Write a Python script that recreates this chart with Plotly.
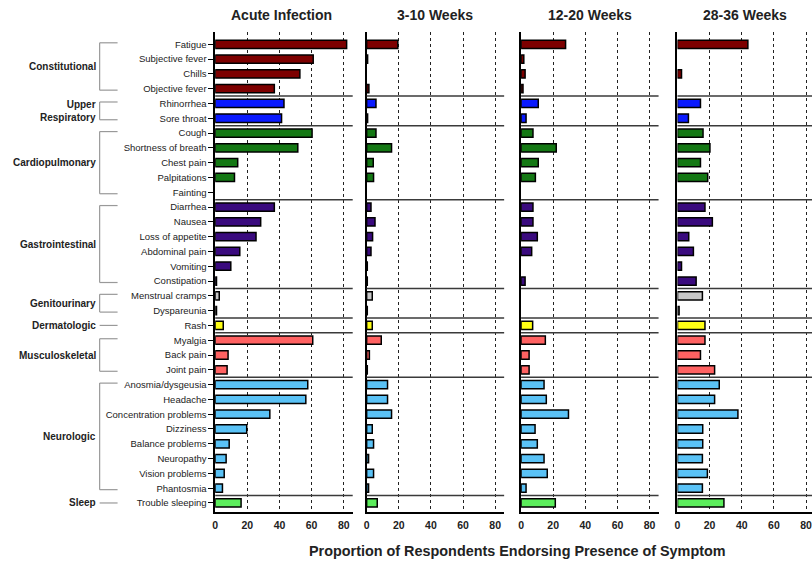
import plotly.graph_objects as go

# ---------------- data ----------------
symptoms = [
    "Fatigue", "Subjective fever", "Chills", "Objective fever",
    "Rhinorrhea", "Sore throat",
    "Cough", "Shortness of breath", "Chest pain", "Palpitations", "Fainting",
    "Diarrhea", "Nausea", "Loss of appetite", "Abdominal pain", "Vomiting", "Constipation",
    "Menstrual cramps", "Dyspareunia",
    "Rash",
    "Myalgia", "Back pain", "Joint pain",
    "Anosmia/dysgeusia", "Headache", "Concentration problems", "Dizziness",
    "Balance problems", "Neuropathy", "Vision problems", "Phantosmia",
    "Trouble sleeping",
]
group_names = ["Constitutional", "Upper<br>Respiratory", "Cardiopulmonary", "Gastrointestinal",
               "Genitourinary", "Dermatologic", "Musculoskeletal", "Neurologic", "Sleep"]
group_sizes = [4, 2, 5, 6, 2, 1, 3, 8, 1]
group_colors = ["#7d0000", "#0a1aff", "#147814", "#3a0a7e", "#c8c8c8",
                "#ffff14", "#ff6262", "#5ac2f6", "#5cee5c"]

periods = ["Acute Infection", "3-10 Weeks", "12-20 Weeks", "28-36 Weeks"]
acute = [81.8, 61, 52.7, 36.8, 42.8, 41.3, 60.3, 51.4, 14, 12, 0,
         36.8, 28.3, 25.4, 15.3, 9.7, 0.8, 2.5, 0.8, 5, 60.7, 8, 7.4,
         57.6, 56.4, 34, 19.6, 8.7, 6.8, 5.6, 4.5, 16.1]
weeks_3_10 = [19.4, 0.6, 0, 1.4, 5.8, 0.6, 5.8, 15.5, 4.1, 4.3, 0,
              2.7, 5.2, 3.7, 2.7, 0.4, 0.4, 3.5, 0.4, 3.5, 9.1, 1.7, 0.4,
              13, 13, 15.5, 3.5, 4.3, 1.2, 4.3, 1.2, 6.6]
weeks_12_20 = [27.7, 1.7, 2.5, 1.2, 10.7, 3.1, 7.4, 21.9, 10.7, 8.9, 0,
               7.4, 7.4, 10.1, 6.6, 0, 2.5, 0, 0, 7.2, 15.1, 5, 5,
               14.3, 15.7, 29.5, 8.7, 10.1, 14.3, 16.3, 3.1, 21.3]
weeks_28_36 = [43.8, 0, 2.5, 0, 14.3, 6.8, 15.9, 20.2, 14.3, 18.8, 0,
               17.1, 21.7, 7, 9.9, 2.5, 11.6, 15.5, 1, 17.1, 17.1, 14.3, 23.1,
               26, 23.1, 37.6, 15.7, 15.7, 15.5, 18.6, 15.5, 28.9]
x_ticks = [0, 20, 40, 60, 80]
x_title = "Proportion of Respondents Endorsing Presence of Symptom"

# ---------------- layout geometry ----------------
W, H = 812, 564
T, B = 32, 52
panel_px = [(213, 351), (365, 503), (520, 658), (677, 812)]
px_per_unit = 1.6125
y_range = [31.61, -0.83]
FONT = "Liberation Sans, Arial, Helvetica, sans-serif"

row_colors = []
starts = []
s = 0
for n, c in zip(group_sizes, group_colors):
    starts.append(s)
    row_colors += [c] * n
    s += n
rows = list(range(len(symptoms)))

fig = go.Figure()
all_vals = [acute, weeks_3_10, weeks_12_20, weeks_28_36]
for k, vals in enumerate(all_vals, start=1):
    sfx = "" if k == 1 else str(k)
    fig.add_trace(go.Bar(
        x=[v if v > 0 else None for v in vals], y=rows, orientation="h",
        width=0.56,
        marker=dict(color=row_colors, line=dict(color="black", width=1.5)),
        xaxis="x" + sfx, yaxis="y" + sfx, showlegend=False,
        hovertext=symptoms,
    ))

layout = dict(
    width=W, height=H,
    margin=dict(l=0, r=0, t=T, b=B),
    paper_bgcolor="white", plot_bgcolor="white",
    font=dict(family=FONT, color="black"),
    bargap=0.44,
)
shapes = []
annotations = []
boundaries = [st - 0.5 for st in starts[1:]]
for k, (x0, x1) in enumerate(panel_px, start=1):
    sfx = "" if k == 1 else str(k)
    xmax = (x1 - x0) / px_per_unit
    layout["xaxis" + sfx] = dict(
        domain=[x0 / W, x1 / W], range=[0, xmax], anchor="y" + sfx,
        tickvals=x_ticks, showgrid=True, gridcolor="#222", griddash="dot",
        gridwidth=1, zeroline=False, showline=True, linecolor="black",
        linewidth=1.5, ticks="", fixedrange=True, ticklabelstandoff=3,
        ticklabeloverflow="allow",
        tickfont=dict(size=10.5, weight="bold", family=FONT, color="#222"),
    )
    yax = dict(
        domain=[0, 1], range=y_range, anchor="x" + sfx, showgrid=False,
        zeroline=False, showline=True, linecolor="black", linewidth=1.5,
        fixedrange=True,
    )
    if k == 1:
        yax.update(tickvals=rows, ticktext=symptoms, ticks="outside",
                   ticklen=5, tickwidth=1.2, tickcolor="black",
                   tickfont=dict(size=9.5, family=FONT, color="#222"))
    else:
        yax.update(showticklabels=False, ticks="")
    layout["yaxis" + sfx] = yax
    for b in boundaries:
        shapes.append(dict(type="line", xref=f"x{sfx} domain", yref="y" + sfx,
                           x0=0, x1=1, y0=b, y1=b,
                           line=dict(color="#3a3a3a", width=1.5)))
    annotations.append(dict(
        text=f"<b>{periods[k-1]}</b>", xref="paper", yref="paper",
        x=((x0 + x1) / 2 - (2 if k == 1 else 0)) / W, y=1 + (T - 15) / (H - T - B),
        xanchor="center", yanchor="middle", showarrow=False,
        font=dict(size=14, family=FONT, color="#222"),
    ))

# group brackets and labels
bx0, bx1, lx = 97 / W, 115 / W, 95 / W
for name, st, n in zip(group_names, starts, group_sizes):
    first, last = st, st + n - 1
    if n == 1:
        shapes.append(dict(type="line", xref="paper", yref="y", x0=bx0, x1=bx1,
                           y0=first, y1=first, line=dict(color="#999", width=1.2)))
    else:
        ya, yb = first - 0.1, last + 0.1
        for yy in (ya, yb):
            shapes.append(dict(type="line", xref="paper", yref="y", x0=bx0, x1=bx1,
                               y0=yy, y1=yy, line=dict(color="#999", width=1.2)))
        shapes.append(dict(type="line", xref="paper", yref="y", x0=bx0, x1=bx0,
                           y0=ya, y1=yb, line=dict(color="#999", width=1.2)))
    annotations.append(dict(
        text=f"<b>{name}</b>", xref="paper", yref="y", x=lx, y=(first + last) / 2,
        xanchor="right", yanchor="middle", align="right", showarrow=False,
        font=dict(size=10, family=FONT, color="#222"),
    ))

annotations.append(dict(
    text=f"<b>{x_title}</b>", xref="paper", yref="paper",
    x=516 / W, y=-(551 - (H - B)) / (H - T - B), xanchor="center", yanchor="middle",
    showarrow=False, font=dict(size=14.4, family=FONT, color="#222"),
))
layout["shapes"] = shapes
layout["annotations"] = annotations
fig.update_layout(**layout)
fig.write_html(
    "out.html",
    config={"displayModeBar": False},
    post_script="document.body.style.margin='0';document.body.style.overflow='hidden';",
)
